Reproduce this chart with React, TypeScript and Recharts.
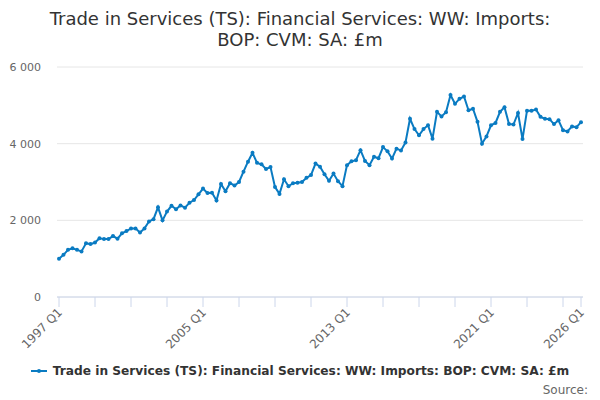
import React from 'react';
import {
  LineChart, Line, CartesianGrid, XAxis, YAxis,
} from 'recharts';

const START_YEAR = 1997;

// quarterly values, 1997 Q1 .. 2026 Q1
const VALUES: number[] = [
  1000, 1100, 1230, 1270, 1230, 1190, 1400, 1380, 1420, 1530,
  1510, 1510, 1590, 1520, 1660, 1720, 1790, 1790, 1680, 1790,
  1970, 2030, 2340, 2000, 2230, 2380, 2290, 2390, 2330, 2460,
  2530, 2680, 2830, 2710, 2720, 2520, 2950, 2760, 2970, 2910,
  3000, 3270, 3530, 3760, 3500, 3460, 3340, 3390, 2870, 2690,
  3070, 2890, 2970, 2980, 3000, 3110, 3180, 3480, 3400, 3200,
  3030, 3220, 3020, 2890, 3440, 3540, 3570, 3830, 3550, 3440,
  3660, 3620, 3910, 3800, 3610, 3870, 3820, 4030, 4650, 4380,
  4220, 4380, 4480, 4130, 4830, 4710, 4820, 5270, 5040, 5170,
  5230, 4870, 4910, 4570, 4000, 4190, 4480, 4540, 4830, 4950,
  4510, 4500, 4800, 4120, 4860, 4860, 4890, 4700, 4650, 4640,
  4510, 4610, 4350, 4320, 4450, 4430, 4560,
];

const X_TICKS = [1997, 1999, 2001, 2003, 2005, 2007, 2009, 2011, 2013, 2015, 2017, 2019, 2021, 2023, 2025, 2026];
const X_LABELS: Record<number, string> = {
  1997: '1997 Q1', 2005: '2005 Q1', 2013: '2013 Q1', 2021: '2021 Q1', 2026: '2026 Q1',
};
const Y_TICKS = [0, 2000, 4000, 6000];

const SERIES_NAME = 'Trade in Services (TS): Financial Services: WW: Imports: BOP: CVM: SA: £m';
const COLOR = '#0a7bc2';
const FONT = '"DejaVu Sans", sans-serif';

const data = VALUES.map((v, i) => ({ t: START_YEAR + i / 4, v }));

const fmtY = (n: number) => (n >= 1000 ? `${Math.floor(n / 1000)} ${String(n % 1000).padStart(3, '0')}` : String(n));

const XTick = (props: any) => {
  const { x, y, payload } = props;
  const label = X_LABELS[payload.value];
  if (!label) return null;
  const ax = x + 4;
  const ay = y + 4;
  return (
    <text x={ax} y={ay} transform={`rotate(-45 ${ax} ${ay})`} textAnchor="end"
      fill="#666" fontSize={12} fontFamily={FONT}>
      {label}
    </text>
  );
};

export default function App() {
  return (
    <div style={{ position: 'absolute', left: 0, top: 0, width: 600, height: 400, background: '#fff', fontFamily: FONT }}>
      <div style={{ position: 'absolute', top: 8, left: 0, width: 600, textAlign: 'center', fontSize: 18, lineHeight: '21px', color: '#333' }}>
        Trade in Services (TS): Financial Services: WW: Imports:<br />BOP: CVM: SA: £m
      </div>

      <LineChart width={600} height={400} data={data} margin={{ top: 67, right: 17, bottom: 43, left: 0 }}>
        <CartesianGrid stroke="#e6e6e6" vertical={false} />
        <XAxis
          dataKey="t"
          type="number"
          domain={[1997, 2026]}
          ticks={X_TICKS}
          interval={0}
          height={60}
          padding={{ left: 2, right: 2 }}
          stroke="#ccd6eb"
          tickSize={10}
          tick={<XTick />}
        />
        <YAxis
          domain={[0, 6000]}
          ticks={Y_TICKS}
          width={57}
          axisLine={false}
          tickLine={false}
          tickSize={0}
          tickMargin={16}
          tickFormatter={fmtY}
          tick={{ fill: '#666', fontSize: 11, fontFamily: FONT }}
        />
        <Line
          type="linear"
          dataKey="v"
          stroke={COLOR}
          strokeWidth={2}
          dot={{ r: 2, fill: COLOR, stroke: COLOR, strokeWidth: 0 }}
          isAnimationActive={false}
        />
      </LineChart>

      <div style={{ position: 'absolute', top: 364, left: 0, width: 600, display: 'flex', justifyContent: 'center', alignItems: 'center' }}>
        <svg width={16} height={12} style={{ marginRight: 6 }}>
          <line x1={0} y1={6} x2={16} y2={6} stroke={COLOR} strokeWidth={2} />
          <circle cx={8} cy={6} r={2} fill={COLOR} />
        </svg>
        <span style={{ fontSize: 12.2, fontWeight: 'bold', color: '#333' }}>{SERIES_NAME}</span>
      </div>
      <div style={{ position: 'absolute', top: 383, right: 12, fontSize: 12, color: '#666' }}>Source:</div>
    </div>
  );
}
